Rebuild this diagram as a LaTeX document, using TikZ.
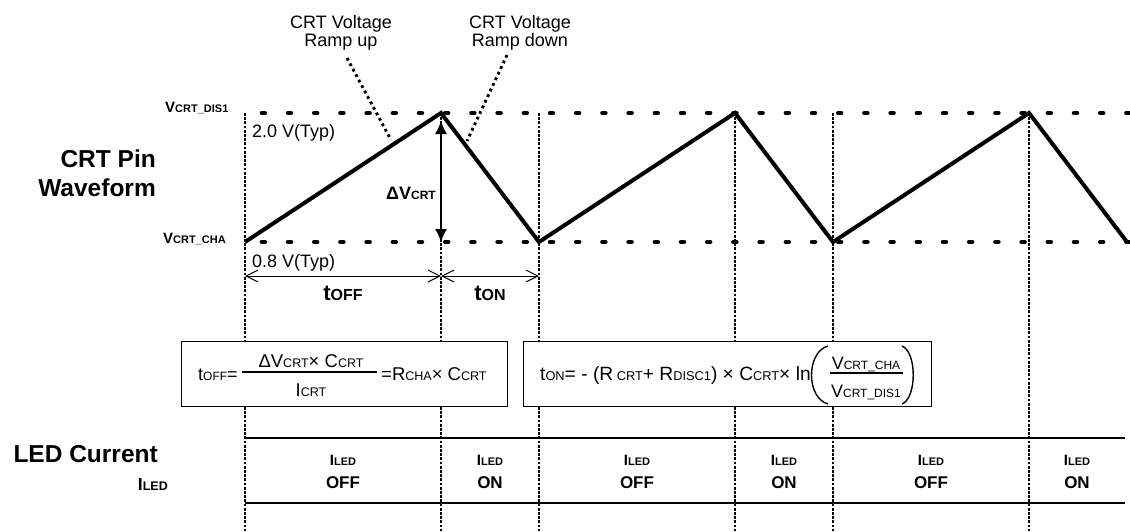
\documentclass[tikz,border=0pt]{standalone}
\usepackage{fontspec}
\setmainfont{Liberation Sans}
\usetikzlibrary{arrows.meta}
\newcommand{\fs}[2]{{\fontsize{#1}{#1}\selectfont #2}}
\begin{document}
\begin{tikzpicture}[x=1pt,y=-1pt,
  vdots/.style={line width=2.8pt, dash pattern=on 2.8pt off 1.4pt},
  bigdots/.style={line width=4.5pt, line cap=round, dash pattern=on 3pt off 23.2pt},
  leader/.style={line width=2.9pt, dash pattern=on 2.8pt off 3.4pt},
  wave/.style={line width=4pt, line join=miter},
  dim/.style={line width=1pt, {Straight Barb[length=12pt,width=12pt]}-{Straight Barb[length=12pt,width=12pt]}},
  dva/.style={line width=1.1pt, {Latex[length=13pt,width=12pt]}-{Latex[length=13pt,width=12pt]}},
  fbox/.style={draw, line width=1.3pt, fill=white, inner sep=0pt, anchor=north west},
  txt/.style={inner sep=0pt, anchor=base},
  txtw/.style={inner sep=0pt, anchor=base west},
  txte/.style={inner sep=0pt, anchor=base east},
  bar/.style={line width=1.1pt},
  ledline/.style={line width=1.5pt}
]
\useasboundingbox (0,0) rectangle (1130,531);
% key coordinates
\coordinate (v0) at (245,242);
\coordinate (p1) at (441,113);
\coordinate (v1) at (539,242);
\coordinate (p2) at (735,113);
\coordinate (v2) at (833,242);
\coordinate (p3) at (1029,113);
\coordinate (v3) at (1127,242);
\foreach \n/\x in {0/245,1/441,2/539,3/735,4/833,5/1029}{
  \coordinate (t\n) at (\x,113);
  \coordinate (b\n) at (\x,531);
}
% vertical dotted lines
\foreach \n in {0,...,5}{ \draw[vdots] (t\n) -- (b\n); }
% horizontal level lines
\coordinate (hd1) at (261.8,113); \coordinate (hd2) at (1132,113);
\coordinate (hc1) at (261.8,242); \coordinate (hc2) at (1132,242);
\draw[bigdots] (hd1) -- (hd2);
\draw[bigdots] (hc1) -- (hc2);
% waveform
\draw[wave] (v0) -- (p1) -- (v1) -- (p2) -- (v2) -- (p3) -- (v3);
% delta V arrow
\coordinate (dvt) at (441,121);
\coordinate (dvb) at (441,242);
\draw[dva] (dvt) -- (dvb);
\node[txte] (dvl) at (436,199) {\bfseries\fs{18}{ΔV}\fs{12}{CRT}};
% level labels
\node[txtw] (vdis) at (165,112) {\bfseries\fs{15}{V}\fs{11}{CRT\_DIS1}};
\node[txtw] (vcha) at (163,243) {\bfseries\fs{15}{V}\fs{11}{CRT\_CHA}};
\node[txtw] (typ2) at (252,137) {\fs{18}{2.0 V(Typ)}};
\node[txtw] (typ8) at (252,267) {\fs{18}{0.8 V(Typ)}};
% section labels
\node[txte] (crt1) at (156,167) {\bfseries\fs{24.5}{CRT Pin}};
\node[txte] (crt2) at (156,196) {\bfseries\fs{24.5}{Waveform}};
\node[txte] (led1) at (158,462) {\bfseries\fs{24.5}{LED Current}};
\node[txte] (led2) at (168,490) {\bfseries\fs{17.5}{I}\fs{12.5}{LED}};
% top annotations
\node[txt] (ru1) at (341,28) {\fs{18}{CRT Voltage}};
\node[txt] (ru2) at (341,46) {\fs{18}{Ramp up}};
\node[txt] (rd1) at (520,28) {\fs{18}{CRT Voltage}};
\node[txt] (rd2) at (520,46) {\fs{18}{Ramp down}};
\coordinate (la1) at (347,58); \coordinate (la2) at (391,140);
\coordinate (lb1) at (507,55); \coordinate (lb2) at (467,141);
\draw[leader] (la1) -- (la2);
\draw[leader] (lb1) -- (lb2);
% time dimensions
\coordinate (d0) at (245,276); \coordinate (d1) at (441,276); \coordinate (d2) at (539,276);
\draw[dim] (d0) -- (d1);
\draw[dim] (d1) -- (d2);
\node[txt] (toff) at (343,300) {\bfseries\fs{22}{t}\fs{16}{OFF}};
\node[txt] (ton) at (490,300) {\bfseries\fs{22}{t}\fs{16}{ON}};
% formula box 1
\node[fbox, minimum width=326pt, minimum height=65pt] (box1) at (181,341) {};
\node[txtw] (f1a) at (198,380) {\fs{18}{t}\fs{12}{OFF}\fs{18}{=}};
\coordinate (fb1a) at (242,372); \coordinate (fb1b) at (377,372);
\draw[bar] (fb1a) -- (fb1b);
\node[txt] (f1n) at (311,367) {\fs{18.5}{ΔV}\fs{12.5}{CRT}\fs{18.5}{× C}\fs{12.5}{CRT}};
\node[txt] (f1d) at (311,396) {\fs{18.5}{I}\fs{12.5}{CRT}};
\node[txtw] (f1r) at (381,380) {\fs{18.5}{=R}\fs{12.5}{CHA}\fs{18.5}{× C}\fs{12.5}{CRT}};
% formula box 2
\node[fbox, minimum width=408pt, minimum height=65pt] (box2) at (523,341) {};
\node[txtw] (f2a) at (540,380) {\fs{19.2}{t}\fs{12.8}{ON}\fs{19.2}{= - (R}\fs{12.8}{ CRT}\fs{19.2}{+ R}\fs{12.8}{DISC1}\fs{19.2}{) × C}\fs{12.8}{CRT}\fs{19.2}{× ln}};
\coordinate (lp1) at (828,346); \coordinate (lpa) at (806,352); \coordinate (lpb) at (806,398); \coordinate (lp2) at (828,404);
\coordinate (rp1) at (902,346); \coordinate (rpa) at (917,352); \coordinate (rpb) at (917,398); \coordinate (rp2) at (902,404);
\draw[line width=1.4pt] (lp1) .. controls (lpa) and (lpb) .. (lp2);
\draw[line width=1.4pt] (rp1) .. controls (rpa) and (rpb) .. (rp2);
\coordinate (fb2a) at (830,373); \coordinate (fb2b) at (903,373);
\draw[bar] (fb2a) -- (fb2b);
\node[txt] (f2n) at (866,369) {\fs{18}{V}\fs{12}{CRT\_CHA}};
\node[txt] (f2d) at (866,397) {\fs{18}{V}\fs{12}{CRT\_DIS1}};
% LED current band
\coordinate (lt1) at (245,438); \coordinate (lt2) at (1125,438);
\coordinate (lb1x) at (245,503); \coordinate (lb2x) at (1125,503);
\draw[ledline] (lt1) -- (lt2);
\draw[ledline] (lb1x) -- (lb2x);
\foreach \n/\cx/\st in {1/343/OFF,2/490/ON,3/637/OFF,4/784/ON,5/931/OFF,6/1077/ON}{
  \node[txt] (li\n) at (\cx,465) {\bfseries\fs{15}{I}\fs{11}{LED}};
  \node[txt] (ls\n) at (\cx,488) {\bfseries\fs{17}{\st}};
}
\end{tikzpicture}
\end{document}
